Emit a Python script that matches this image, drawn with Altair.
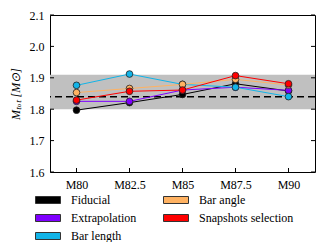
import altair as alt
import pandas as pd

categories = ["M80", "M82.5", "M85", "M87.5", "M90"]
series_names = ["Fiducial", "Extrapolation", "Bar length", "Bar angle", "Snapshots selection"]
series_colors = ["#000000", "#7f00ff", "#12b4e8", "#ffb262", "#ff0000"]
fiducial = [1.797, 1.821, 1.847, 1.881, 1.858]
extrapolation = [1.825, 1.825, 1.861, 1.870, 1.860]
bar_length = [1.876, 1.912, 1.879, 1.870, 1.840]
bar_angle = [1.853, 1.866, 1.879, 1.895, 1.877]
snapshots = [1.829, 1.857, 1.861, 1.907, 1.881]
band = [1.80, 1.91]
reference_level = [1.84]
y_ticks = [1.6, 1.7, 1.8, 1.9, 2.0, 2.1]

values = [fiducial, extrapolation, bar_length, bar_angle, snapshots]

FONT = "Liberation Serif"
W, H = 265, 157

xscale = alt.Scale(type="point", domain=categories, padding=0.5)
yscale = alt.Scale(domain=[1.6, 2.1], nice=False, zero=False)
# legend grid is filled column by column -> series order gives the reference's rows
fill_scale = alt.Scale(domain=series_names, range=series_colors)
# stroke scale uses a different domain order so its (hidden) legend is not merged with the fill legend
stroke_scale = alt.Scale(domain=series_names[::-1], range=series_colors[::-1])

legend = alt.Legend(
    orient="none", legendX=-15, legendY=179, columns=2, title=None,
    symbolType="M-1,-0.28L1,-0.28L1,0.28L-1,0.28Z", symbolSize=625,
    symbolStrokeColor="#333333", symbolStrokeWidth=1, symbolOpacity=1,
    labelFont=FONT, labelFontSize=12, labelColor="black", labelOffset=10,
    columnPadding=26, rowPadding=6, clipHeight=12, padding=0,
)

left_axis = alt.Axis(
    values=y_ticks, format=".1f", ticks=False, domain=False, grid=False,
    title="Mₜₒₜ [M⊙]", titleFontStyle="italic", titleFont=FONT, titleFontSize=12,
    titleFontWeight="normal", titleColor="black",
    labelFont=FONT, labelFontSize=12, labelColor="black", labelPadding=6, titlePadding=7,
)
bottom_axis = alt.Axis(
    ticks=False, domain=False, grid=False, labelAngle=0, title=None,
    labelFont=FONT, labelFontSize=12, labelColor="black", labelPadding=7,
)

band_df = pd.DataFrame({"lo": [band[0]], "hi": [band[1]]})
ref_df = pd.DataFrame({"v": reference_level})
yt_df = pd.DataFrame({"v": y_ticks})
xt_df = pd.DataFrame({"c": categories})

def Y(field):
    return alt.Y(field, scale=yscale, axis=left_axis)

def X(field):
    return alt.X(field, scale=xscale, axis=bottom_axis, sort=categories)

band_layer = alt.Chart(band_df).mark_rect(color="#c0c0c0").encode(y=Y("lo:Q"), y2="hi:Q")
ref_layer = alt.Chart(ref_df).mark_rule(color="black", strokeWidth=1.5, strokeDash=[7, 4]).encode(y=Y("v:Q"))
xtick_layer = alt.Chart(xt_df).mark_rule(color="black", strokeWidth=1).encode(
    x=X("c:N"), y=alt.value(H), y2=alt.value(H - 4)
)
ytick_left = alt.Chart(yt_df).mark_rule(color="black", strokeWidth=1).encode(
    y=Y("v:Q"), x=alt.value(0), x2=alt.value(4)
)
ytick_right = alt.Chart(yt_df).mark_rule(color="black", strokeWidth=1).encode(
    y=Y("v:Q"), x=alt.value(W), x2=alt.value(W - 4)
)

layers = [band_layer, ref_layer, xtick_layer, ytick_left, ytick_right]
for name, vals in zip(series_names, values):
    df = pd.DataFrame({"cat": categories, "val": vals, "series": [name] * len(categories)})
    base = alt.Chart(df)
    line = base.mark_line(strokeWidth=1).encode(
        x=X("cat:N"), y=Y("val:Q"),
        stroke=alt.Stroke("series:N", scale=stroke_scale, legend=None),
    )
    pts = base.mark_point(filled=True, size=45, stroke="#222222", strokeWidth=0.8, opacity=1).encode(
        x=X("cat:N"), y=Y("val:Q"),
        fill=alt.Fill("series:N", scale=fill_scale, legend=legend),
    )
    layers += [line, pts]

chart = alt.layer(*layers).properties(
    width=W, height=H,
    title=alt.TitleParams("×10¹⁰", anchor="start", frame="group", font=FONT, fontSize=11,
                          fontWeight="normal", color="black", offset=1),
    autosize=alt.AutoSizeParams(type="none"),
    padding={"left": 42, "top": 7, "right": 9, "bottom": 70},
).configure_view(stroke="black", strokeWidth=1)

chart.save("out.html", embed_options={"renderer": "svg", "actions": False})
